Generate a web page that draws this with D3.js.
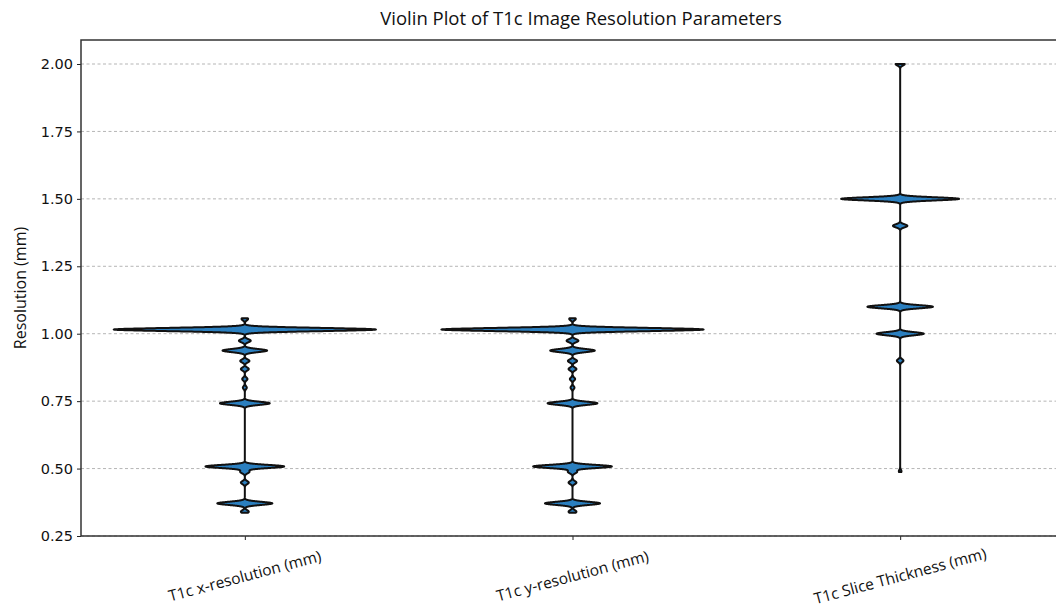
<!DOCTYPE html>
<html>
<head>
<meta charset="utf-8">
<script src="https://cdn.jsdelivr.net/npm/d3@7"></script>
<style>
  body { margin: 0; background: #fff; }
  svg { display: block; }
  .tick text { font-family: "DejaVu Sans", sans-serif; font-size: 14.5px; fill: #111; }
</style>
</head>
<body>
<div id="chart"></div>
<script>
// Categories on the x axis
var categories = ["T1c x-resolution (mm)", "T1c y-resolution (mm)", "T1c Slice Thickness (mm)"];

// Peaks of each violin (value in mm) and their relative width (1 = widest)
var xresPeaks = [0.340, 0.371, 0.448, 0.488, 0.5078, 0.742, 0.800, 0.832, 0.869, 0.899, 0.9375, 0.974, 1.0156, 1.055];
var xresDensity = [0.03, 0.21, 0.03, 0.035, 0.30, 0.19, 0.015, 0.02, 0.03, 0.035, 0.17, 0.045, 1.0, 0.025];
var xresRange = [0.336, 1.057];

var yresPeaks = [0.340, 0.371, 0.448, 0.488, 0.5078, 0.742, 0.800, 0.832, 0.869, 0.899, 0.9375, 0.974, 1.0156, 1.055];
var yresDensity = [0.03, 0.21, 0.03, 0.035, 0.30, 0.19, 0.015, 0.02, 0.03, 0.035, 0.17, 0.045, 1.0, 0.025];
var yresRange = [0.336, 1.057];

var slicePeaks = [0.49, 0.90, 1.00, 1.10, 1.40, 1.50, 2.00];
var sliceDensity = [0.01, 0.025, 0.18, 0.25, 0.055, 0.45, 0.035];
var sliceRange = [0.487, 2.0];

// y ticks
var yTicks = [0.25, 0.50, 0.75, 1.00, 1.25, 1.50, 1.75, 2.00];

// Chart area
var svgWidth = 1056;
var svgHeight = 610;
var margin = { top: 40, left: 81 };
var chartWidth = 983;   // right spine falls just past the picture edge
var chartHeight = 496;

var svg = d3.select("#chart")
    .append("svg")
    .attr("width", svgWidth)
    .attr("height", svgHeight);

var chartGroup = svg.append("g")
    .attr("transform", `translate(${margin.left}, ${margin.top})`);

// Scales
var xScale = d3.scaleLinear()
    .domain([0.5, 3.5])
    .range([0, chartWidth]);

var yScale = d3.scaleLinear()
    .domain([0.25, 2.089])
    .range([chartHeight, 0]);

// Grid lines
chartGroup.append("g")
    .selectAll("line")
    .data(yTicks)
    .enter().append("line")
    .attr("x1", 0)
    .attr("x2", chartWidth)
    .attr("y1", d => yScale(d))
    .attr("y2", d => yScale(d))
    .attr("stroke", "#b5b5b5")
    .attr("stroke-width", 1)
    .attr("stroke-dasharray", "3,2.5");

// Build a violin outline from the peaks (narrow gaussian kernels)
var bw = 0.0058;
var maxHalf = 0.4; // half width in x units for density 1

function violinPoints(peaks, density, range) {
    var pts = [];
    for (var y = range[0]; y <= range[1] + 1e-9; y += 0.0002) {
        var w = 0;
        peaks.forEach(function(p, i) {
            var z = (y - p) / bw;
            w += density[i] * Math.exp(-0.5 * z * z);
        });
        pts.push({ y: y, w: w * maxHalf });
    }
    return pts;
}

var violins = [
    { pos: 1, pts: violinPoints(xresPeaks, xresDensity, xresRange) },
    { pos: 2, pts: violinPoints(yresPeaks, yresDensity, yresRange) },
    { pos: 3, pts: violinPoints(slicePeaks, sliceDensity, sliceRange) }
];

violins.forEach(function(v) {
    var a = d3.area()
        .y(d => yScale(d.y))
        .x0(d => xScale(v.pos - d.w))
        .x1(d => xScale(v.pos + d.w));
    chartGroup.append("path")
        .datum(v.pts)
        .attr("d", a)
        .attr("fill", "#2b7fbf")
        .attr("stroke", "#111")
        .attr("stroke-width", 2)
        .attr("stroke-linejoin", "round");
});

// Axes
var leftAxis = d3.axisLeft(yScale)
    .tickValues(yTicks)
    .tickFormat(d3.format(".2f"))
    .tickSize(4)
    .tickPadding(4);

var yAxis = chartGroup.append("g")
    .call(leftAxis);
yAxis.select(".domain").remove();
yAxis.selectAll(".tick line").attr("stroke", "#222");

var bottomAxis = d3.axisBottom(xScale)
    .tickValues([1, 2, 3])
    .tickFormat("")
    .tickSize(4);

var xAxis = chartGroup.append("g")
    .attr("transform", `translate(0,${chartHeight})`)
    .call(bottomAxis);
xAxis.select(".domain").remove();
xAxis.selectAll(".tick line").attr("stroke", "#222");

// Spines
chartGroup.append("rect")
    .attr("x", 0)
    .attr("y", 0)
    .attr("width", chartWidth)
    .attr("height", chartHeight)
    .attr("fill", "none")
    .attr("stroke", "#333")
    .attr("stroke-width", 1.5);

// Rotated category labels
chartGroup.append("g")
    .selectAll("text")
    .data(categories)
    .enter().append("text")
    .attr("transform", (d, i) => `translate(${xScale(i + 1)}, ${chartHeight + 40}) rotate(-15)`)
    .attr("dy", "0.35em")
    .attr("text-anchor", "middle")
    .attr("font-family", "'Open Sans', sans-serif")
    .attr("font-size", 15.5)
    .attr("fill", "#111")
    .text(d => d);

// y axis label
chartGroup.append("text")
    .attr("transform", "rotate(-90)")
    .attr("x", 0 - chartHeight / 2)
    .attr("y", 0 - 55)
    .attr("text-anchor", "middle")
    .attr("font-family", "'Open Sans', sans-serif")
    .attr("font-size", 16)
    .attr("fill", "#111")
    .text("Resolution (mm)");

// Title
svg.append("text")
    .attr("x", 581)
    .attr("y", 25)
    .attr("text-anchor", "middle")
    .attr("font-family", "'Open Sans', sans-serif")
    .attr("font-size", 18.5)
    .attr("fill", "#111")
    .text("Violin Plot of T1c Image Resolution Parameters");
</script>
</body>
</html>
